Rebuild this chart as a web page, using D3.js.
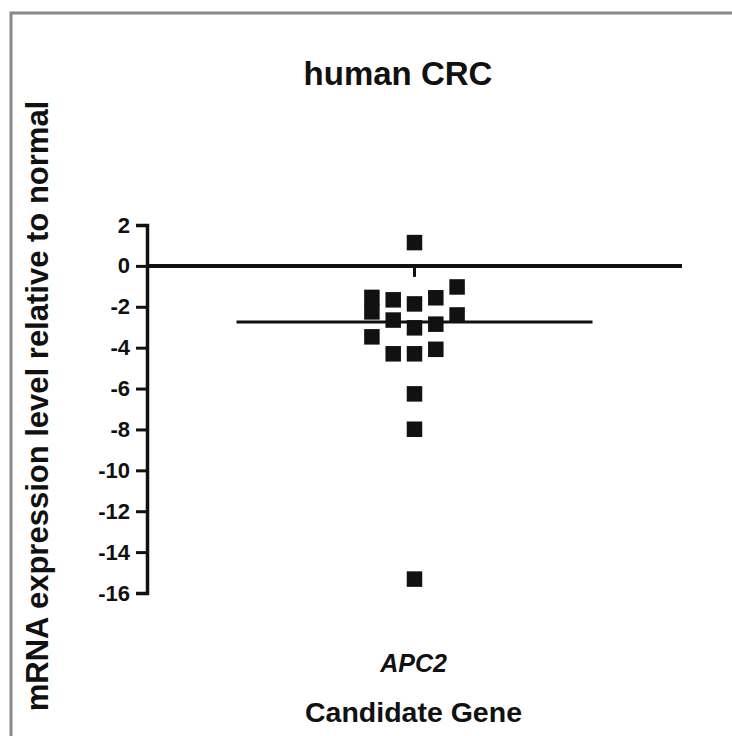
<!DOCTYPE html>
<html>
<head>
<meta charset="utf-8">
<script src="https://cdn.jsdelivr.net/npm/d3@7"></script>
<style>
  html, body { margin: 0; padding: 0; background: #fff; overflow: hidden; }
  svg { display: block; font-family: "Liberation Sans", Arial, sans-serif; }
</style>
</head>
<body>
<svg id="chart" width="732" height="736"></svg>
<script>
// Fold change of APC2 mRNA in tumour vs. matched normal tissue (one value per patient)
const gene = ["APC2"];
const foldChange = [
  1.14, -1.54, -2.25, -3.47, -1.66, -2.65, -4.30, -1.86, -3.03,
  -4.30, -6.26, -7.99, -15.32, -1.56, -2.85, -4.08, -1.03, -2.40
];
// column slot of each point in the scatter (dot-plot spreading of near-equal values)
const slot = [0, -2, -2, -2, -1, -1, -1, 0, 0, 0, 0, 0, 0, 1, 1, 1, 2, 2];
const yTicks = [2, 0, -2, -4, -6, -8, -10, -12, -14, -16];
const titleText = "human CRC";
const yLabel = "mRNA expression level relative to normal";
const xLabel = "Candidate Gene";

const svg = d3.select("#chart");
const ink = "#111";

// outer frame: only the top and left edges fall inside the page
svg.append("path")
  .attr("d", "M11,740 V13 H740")
  .attr("fill", "none")
  .attr("stroke", "#8a8a8a")
  .attr("stroke-width", 3);

const y = d3.scaleLinear().domain([-16, 2]).range([593, 225]);
const x = d3.scaleBand().domain(gene).range([147, 682]);
const slotX = d3.scaleLinear().domain([-1, 1]).range([-21.3, 21.3]);
const cx = x(gene[0]) + x.bandwidth() / 2;

// y axis
const yAxis = svg.append("g")
  .attr("transform", "translate(147,0)")
  .call(d3.axisLeft(y).tickValues(yTicks).tickFormat(d => String(d)).tickSize(11).tickPadding(6));
yAxis.select(".domain").attr("stroke", ink).attr("stroke-width", 3.5);
yAxis.selectAll(".tick line").attr("stroke", ink).attr("stroke-width", 3);
yAxis.selectAll(".tick text")
  .attr("fill", ink)
  .style("font-family", "'Liberation Sans', Arial, sans-serif")
  .style("font-size", "22px")
  .style("font-weight", "bold");

// zero baseline with the category tick
svg.append("line")
  .attr("x1", x.range()[0]).attr("x2", x.range()[1])
  .attr("y1", y(0)).attr("y2", y(0))
  .attr("stroke", ink).attr("stroke-width", 4);
svg.append("line")
  .attr("x1", cx).attr("x2", cx)
  .attr("y1", y(0)).attr("y2", y(0) + 11)
  .attr("stroke", ink).attr("stroke-width", 3);

// median line
const med = d3.median(foldChange);
svg.append("line")
  .attr("x1", cx - 178).attr("x2", cx + 178)
  .attr("y1", y(med)).attr("y2", y(med))
  .attr("stroke", ink).attr("stroke-width", 3);

// individual samples
const size = 15.5;
svg.append("g").selectAll("rect")
  .data(foldChange.map((v, i) => ({ v, s: slot[i] })))
  .join("rect")
  .attr("x", d => cx + slotX(d.s) - size / 2)
  .attr("y", d => y(d.v) - size / 2)
  .attr("width", size).attr("height", size)
  .attr("fill", ink);

// texts
svg.append("text")
  .attr("x", 398).attr("y", 85)
  .attr("text-anchor", "middle")
  .attr("fill", ink)
  .style("font-size", "33px").style("font-weight", "bold")
  .text(titleText);

svg.append("text")
  .attr("x", cx - 1).attr("y", 672)
  .attr("text-anchor", "middle")
  .attr("fill", ink)
  .style("font-size", "25px").style("font-weight", "bold").style("font-style", "italic")
  .text(gene[0]);

svg.append("text")
  .attr("x", cx - 1).attr("y", 722)
  .attr("text-anchor", "middle")
  .attr("fill", ink)
  .style("font-size", "28.5px").style("font-weight", "bold")
  .text(xLabel);

svg.append("text")
  .attr("transform", "translate(48,406) rotate(-90)")
  .attr("text-anchor", "middle")
  .attr("fill", ink)
  .style("font-size", "31px").style("font-weight", "bold")
  .text(yLabel);
</script>
</body>
</html>
